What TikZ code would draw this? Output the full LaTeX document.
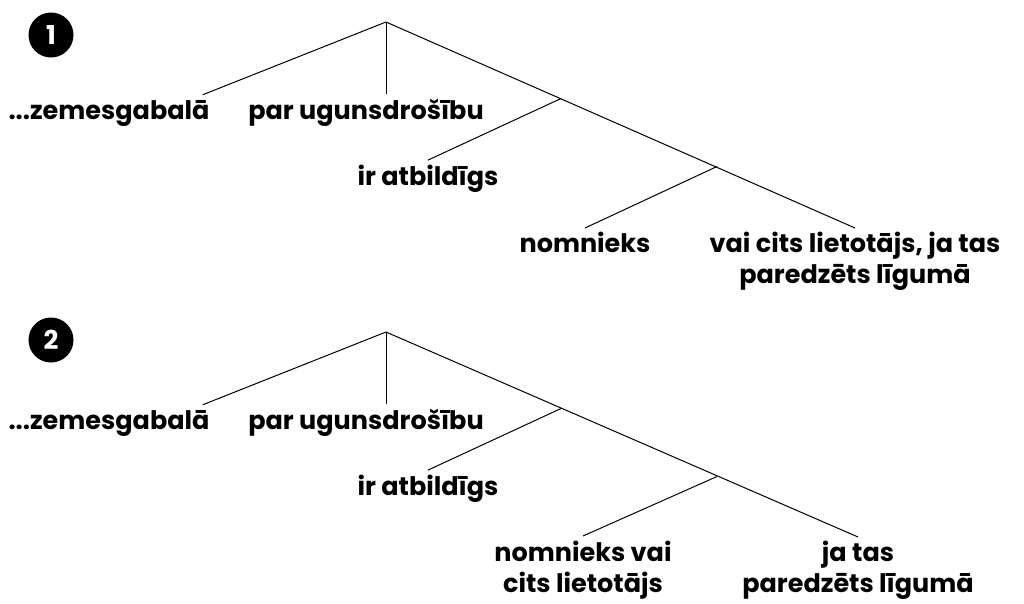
\documentclass[tikz,border=0pt]{standalone}
\usepackage{fontspec}
\setmainfont{Poppins}
\usetikzlibrary{positioning}
\newcommand{\treeGap}{310}
\tikzset{
  word/.style={font=\bfseries\fontsize{25.5}{31}\selectfont, align=center, inner sep=0pt},
  badge/.style={circle, fill=black, text=white, minimum size=45pt, inner sep=0pt,
    font=\bfseries\fontsize{26}{26}\selectfont},
  branch/.style={line width=1pt}
}

\begin{document}
\begin{tikzpicture}[x=1pt,y=-1pt]
\useasboundingbox (0,0) rectangle (1024,603);
% first reading
\node[badge] (num1) at (51,35) {1};
\coordinate (root1) at (386,22);
\coordinate (fork1) at (561,98.5);
\coordinate (twig1) at (717,166.5);
\node[word] (zeme1) at (109,113) {...zemesgabalā};
\node[word] (par1) at (366,113) {par ugunsdrošību};
\node[word] (ir1) at (428,179) {ir atbildīgs};
\node[word, anchor=north] (nom1) at (585,232) {nomnieks};
\node[word, anchor=north] (vai1) at (855,232) {vai cits lietotājs, ja tas\\paredzēts līgumā};
\draw[branch] (root1) -- ([xshift=-7pt,yshift=5pt]zeme1.north east);
\draw[branch] (root1) -- ([xshift=20pt,yshift=5pt]par1.north);
\draw[branch] (root1) -- ([yshift=4pt]vai1.north);
\draw[branch] (fork1) -- ([yshift=5pt]ir1.north);
\draw[branch] (twig1) -- ([yshift=4pt]nom1.north);

% second reading
\begin{scope}[shift={(0,\treeGap)}]
\node[badge] (num2) at (51,30) {2};
\coordinate (root2) at (386,22);
\coordinate (fork2) at (561,98.5);
\coordinate (twig2) at (717,166.5);
\node[word] (zeme2) at (109,113) {...zemesgabalā};
\node[word] (par2) at (366,113) {par ugunsdrošību};
\node[word] (ir2) at (428,179) {ir atbildīgs};
\node[word, anchor=north] (nom2) at (583,231) {nomnieks vai\\cits lietotājs};
\node[word, anchor=north] (vai2) at (858,231) {ja tas\\paredzēts līgumā};
\draw[branch] (root2) -- ([yshift=4pt]vai2.north);
\draw[branch] (root2) -- ([xshift=-7pt,yshift=5pt]zeme2.north east);
\draw[branch] (root2) -- ([xshift=20pt,yshift=5pt]par2.north);
\draw[branch] (fork2) -- ([yshift=5pt]ir2.north);
\draw[branch] (twig2) -- ([yshift=5pt]nom2.north);
\end{scope}
\end{tikzpicture}
\end{document}
